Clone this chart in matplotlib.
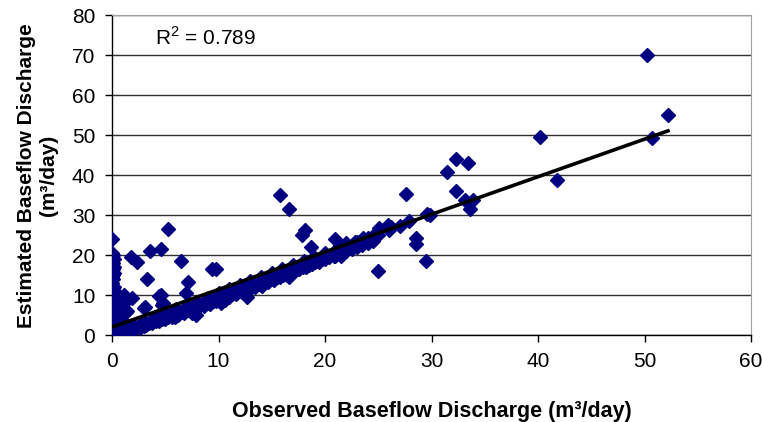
import numpy as np
import matplotlib
matplotlib.use("Agg")
import matplotlib.pyplot as plt

plt.rcParams['font.family'] = ['Liberation Sans', 'DejaVu Sans']
plt.rcParams['mathtext.fontset'] = 'custom'
plt.rcParams['mathtext.rm'] = 'Liberation Sans'
plt.rcParams['mathtext.bf'] = 'Liberation Sans:bold'

# points stacked at observed ~0
col_x = [0.0, 0.1, 0.0, 0.2, 0.0, 0.1, 0.0, 0.2, 0.1, 0.0, 0.2, 0.1, 0.0, 0.1, 0.0, 0.2,
         0.1, 0.0, 0.2, 0.1, 0.0, 0.2, 0.1, 0.0, 0.3, 0.1, 0.0, 0.2, 0.1, 0.0, 0.3, 0.1,
         0.0, 0.2, 0.1, 0.0, 0.2, 0.1, 0.0, 0.2]
col_y = [20.5, 20.0, 19.5, 19.0, 18.5, 18.0, 17.5, 17.0, 16.5, 16.0, 15.5, 15.0, 14.5,
         14.0, 13.0, 12.0, 11.5, 11.0, 10.5, 10.0, 9.5, 9.0, 8.5, 8.0, 7.5, 7.0, 6.5,
         6.0, 5.5, 5.0, 4.5, 4.0, 3.5, 3.0, 2.5, 2.0, 1.5, 1.0, 0.5, 0.0]

# blob near the origin
blob_x = [0.5, 0.6, 0.4, 0.8, 0.6, 0.9, 1.1, 0.5, 1.0, 1.2, 0.8, 1.5, 0.9, 1.1, 0.4, 1.4]
blob_y = [1.0, 2.5, 4.0, 5.0, 6.5, 7.5, 8.0, 8.5, 3.5, 2.0, 0.5, 1.5, 9.5, 10.0, 10.5, 6.0]

# dense band under the trend line
band_x = [0.5, 0.8, 1.0, 1.2, 1.5, 1.8, 2.0, 2.3, 2.6, 2.9, 3.2, 3.5, 3.8, 4.1, 4.4, 4.7,
          5.0, 5.3, 5.6, 5.9, 6.2, 6.5, 6.8, 7.1, 7.4, 7.7, 8.0, 8.3, 8.6, 8.9, 9.2, 9.5,
          9.8, 10.1, 10.4, 10.7, 11.0, 11.3, 11.6, 11.9, 12.2, 12.5, 12.8, 13.1, 13.4,
          13.7, 14.0, 14.3, 14.6, 14.9, 15.2, 15.5, 15.8, 16.1, 16.4, 16.7, 17.0, 17.3,
          17.6, 17.9, 18.2, 18.5, 18.8, 19.1, 19.4, 19.7, 20.0, 20.4, 20.8, 21.2, 21.6,
          22.0, 22.5, 23.0, 23.5, 24.0, 24.5]
band_y = [0.3, 0.8, 0.5, 1.2, 1.0, 1.6, 1.3, 2.0, 1.8, 2.5, 2.4, 3.0, 2.9, 3.6, 3.4, 4.1,
          4.0, 4.6, 4.5, 5.1, 5.0, 5.7, 5.6, 6.3, 6.1, 6.8, 6.7, 7.4, 7.2, 7.9, 7.8, 8.5,
          8.4, 9.1, 9.0, 9.7, 9.6, 10.3, 10.2, 10.9, 10.8, 11.5, 11.4, 12.1, 12.0, 12.7,
          12.6, 13.3, 13.2, 13.9, 13.8, 14.5, 14.5, 15.1, 15.1, 15.7, 15.7, 16.3, 16.4,
          17.0, 17.0, 17.6, 17.7, 18.2, 18.3, 18.9, 19.0, 19.5, 19.8, 20.3, 20.6, 21.0,
          21.6, 22.0, 22.6, 23.0, 23.6]

upper_x = [2, 3, 4, 5, 6, 7, 8, 9, 10, 11, 12, 13, 14, 15, 16, 17, 18, 19, 20, 21, 22,
           23, 24, 25, 26, 27]
upper_y = [2.6, 3.6, 4.5, 5.5, 6.4, 7.3, 8.3, 9.2, 10.6, 11.6, 12.6, 13.6, 14.6, 15.6,
           16.5, 17.5, 18.4, 19.4, 20.4, 21.3, 22.3, 23.2, 24.2, 25.1, 26.3, 27.2]

# scattered points
out_x = [0.0, 5.3, 3.6, 4.6, 1.8, 2.3, 6.5, 3.3, 7.1, 9.4, 9.8, 4.4, 6.9, 1.9, 1.3, 3.0,
         4.7, 7.5, 7.9, 10.2, 10.6, 12.7, 14.1, 16.6, 15.8, 16.6, 18.1, 17.8, 18.7, 20.9,
         20.9, 21.5, 3.0, 4.8, 4.6, 3.1, 5.9, 21.4, 21.5, 22.0, 22.8, 23.6, 24.8, 25.1,
         25.9, 26.2, 25.0, 27.9, 27.6, 28.5, 28.5, 29.5, 29.6, 29.9, 31.5, 32.3, 33.4,
         32.3, 33.1, 33.9, 33.6, 40.2, 41.8, 50.2, 52.2, 50.7]
out_y = [24.0, 26.5, 21.0, 21.5, 19.5, 18.3, 18.5, 14.0, 13.3, 16.5, 16.5, 9.7, 10.5, 9.2,
         5.8, 6.8, 7.6, 5.5, 5.0, 8.0, 8.7, 9.5, 12.2, 14.5, 35.0, 31.5, 26.2, 25.0, 22.0,
         24.0, 19.8, 19.8, 2.2, 8.0, 10.0, 7.0, 4.5, 22.5, 20.0, 23.0, 23.2, 24.2, 25.5,
         26.7, 27.5, 27.0, 16.0, 28.5, 35.2, 22.7, 24.2, 18.5, 30.2, 30.0, 40.7, 44.0,
         43.0, 36.0, 33.7, 33.7, 31.5, 49.5, 38.7, 70.0, 55.0, 49.2]

# linear trend line
fit_slope = 0.94
fit_intercept = 2.0
fit_range = [0.0, 52.2]
r2_text = r"R$^{2}$ = 0.789"

obs = np.concatenate([col_x, blob_x, band_x, upper_x, out_x])
est = np.concatenate([col_y, blob_y, band_y, upper_y, out_y])

fig = plt.figure(figsize=(7.62, 4.22), dpi=100)
ax = fig.add_axes([0.147, 0.206, 0.8386, 0.758])

ax.plot(obs, est, linestyle='none', marker='D', ms=7.5, color='#000080',
        mec='#000080', zorder=3)

fx = np.array(fit_range)
ax.plot(fx, fit_intercept + fit_slope * fx, color='black', lw=2.6, zorder=4)

ax.set_xlim(0, 60)
ax.set_ylim(0, 80)
ax.set_xticks(np.arange(0, 61, 10))
ax.set_yticks(np.arange(0, 81, 10))
ax.yaxis.grid(True, color='#303030', lw=1.0)
ax.set_axisbelow(True)
for s in ['top', 'right']:
    ax.spines[s].set_color('#a0a0a0')
for s in ['left', 'bottom']:
    ax.spines[s].set_color('black')
    ax.spines[s].set_linewidth(1.0)
ax.tick_params(direction='out', length=5, width=1, labelsize=15, pad=7)

ax.text(4.0, 72.5, r2_text, fontsize=15)

ax.set_xlabel("Observed Baseflow Discharge (m³/day)", fontsize=15.5,
              fontweight='bold', labelpad=22)
ax.set_ylabel("Estimated Baseflow Discharge\n(m³/day)", fontsize=15,
              fontweight='bold', labelpad=10)

fig.savefig("out.png", dpi=100)
